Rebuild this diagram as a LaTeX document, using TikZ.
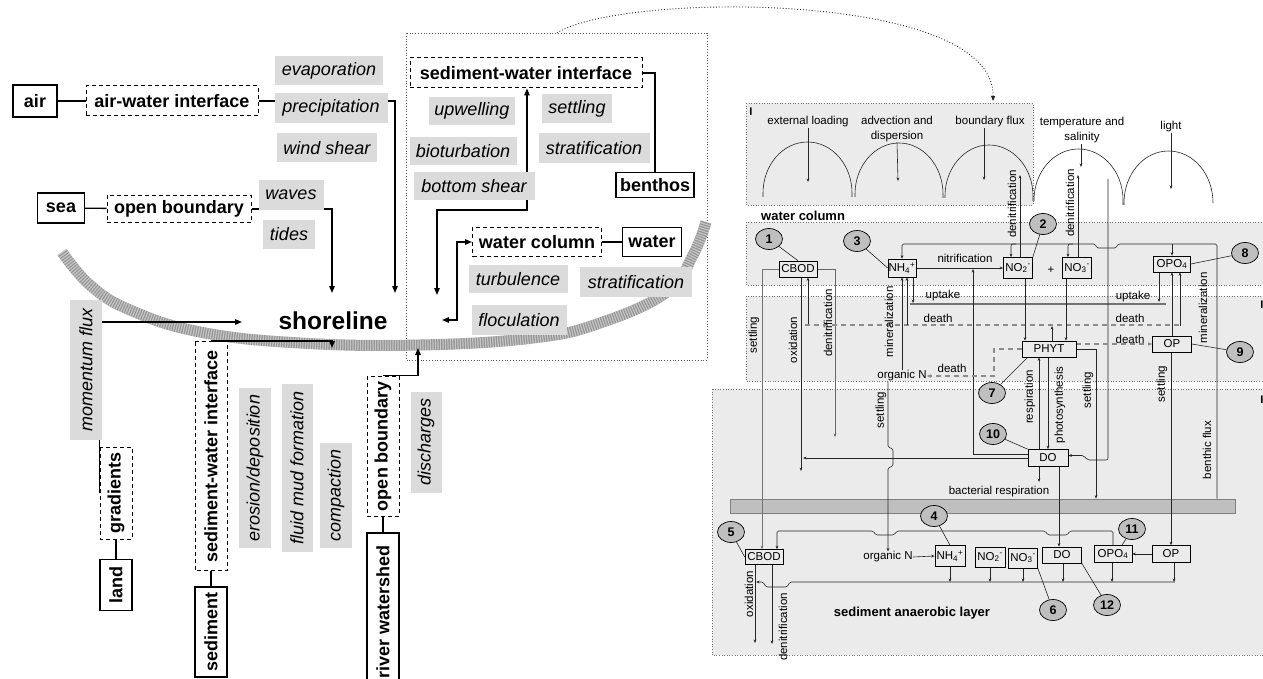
\documentclass[tikz,border=0pt]{standalone}
\usepackage{fontspec}
\setmainfont{Liberation Sans}
\usetikzlibrary{arrows.meta,shapes.geometric,calc}
\pgfdeclarelayer{panel}
\pgfdeclarelayer{bg}
\pgfsetlayers{panel,bg,main}
\begin{document}
\begin{tikzpicture}[x=1pt,y=-1pt,
  bbox/.style={draw, line width=1.1, inner sep=0, font=\fontsize{18}{21}\selectfont\bfseries, fill=white},
  dbox/.style={draw, line width=1, dash pattern=on 4pt off 3pt, inner sep=0, font=\fontsize{18}{21}\selectfont\bfseries, fill=white},
  gbox/.style={fill=black!14, inner sep=0, minimum height=29, font=\fontsize{18}{21}\selectfont\itshape},
  la/.style={line width=1.3, -{Triangle[length=7pt,width=5.5pt]}},
  lb/.style={line width=1.3, {Triangle[length=7pt,width=5.5pt]}-{Triangle[length=7pt,width=5.5pt]}},
  ln/.style={line width=1.3},
  rbox/.style={draw, line width=0.6, inner sep=0, fill=black!8, font=\fontsize{11.5}{13}\selectfont},
  rl/.style={inner sep=0, font=\fontsize{11.5}{13}\selectfont},
  rl2/.style={inner sep=0, align=center, font=\fontsize{11.5}{15}\selectfont},
  rlr/.style={rl, rotate=90},
  rb/.style={inner sep=0, font=\fontsize{13}{15}\selectfont\bfseries},
  num/.style={ellipse, draw, line width=0.7, fill=black!25, minimum width=27, minimum height=21, inner sep=0, font=\fontsize{12.5}{14}\selectfont\bfseries},
  ra/.style={line width=0.6, draw=black!85, -{Stealth[length=3.5pt,width=2.8pt]}},
  rn/.style={line width=0.6, draw=black!85},
  dth/.style={line width=1.1, draw=black!45, dash pattern=on 5pt off 4pt},
  panelst/.style={fill=black!8, draw=black!55, dotted, line width=0.6},
  mkst/.style={inner sep=0, font=\fontsize{11}{12}\selectfont\bfseries},
]
\useasboundingbox (0,0) rectangle (1263,679);

% ---------------- panels ----------------
\begin{pgfonlayer}{panel}
\draw[panelst] (746,103) rectangle (1033,205);
\draw[panelst] (746,222) rectangle (1263,285);
\draw[panelst] (746,296) rectangle (1263,381);
\draw[panelst] (712,389) rectangle (1263,655);
\node[draw=black!50, fill=black!25, line width=0.6, minimum width=505, minimum height=14, inner sep=0] (sbar) at (982.5,506) {};
\draw[black!65, dotted, line width=0.8] (406,33) rectangle (707,360);
\end{pgfonlayer}

% ---------------- left nodes ----------------
\node[bbox, minimum width=44, minimum height=32] (air) at (35,101) {air};
\node[dbox, minimum width=172, minimum height=30] (aw) at (172,101) {air-water interface};
\node[gbox, minimum width=108] (evap) at (329,71) {evaporation};
\node[gbox, minimum width=113, minimum height=30] (prec) at (331,108) {precipitation};
\node[gbox, minimum width=100] (wind) at (327,148) {wind shear};
\node[bbox, minimum width=47, minimum height=30] (sea) at (61,208) {sea};
\node[dbox, minimum width=144, minimum height=27] (ob) at (179,209) {open boundary};
\node[gbox, minimum width=65, minimum height=30] (waves) at (291,195) {waves};
\node[gbox, minimum width=52] (tides) at (289,234) {tides};
\node[inner sep=0, font=\fontsize{24.5}{28}\selectfont\bfseries] (shore) at (333,321) {shoreline};

\node[gbox, rotate=90, minimum width=140, minimum height=32] (mom) at (86,370) {momentum flux};
\node[dbox, rotate=90, minimum width=92, minimum height=32] (grad) at (116,493) {gradients};
\node[bbox, rotate=90, minimum width=51, minimum height=32] (land) at (116,585) {land};
\node[dbox, rotate=90, minimum width=229, minimum height=32] (swiv) at (211,456) {sediment-water interface};
\node[bbox, rotate=90, minimum width=90, minimum height=32] (sed) at (211,632) {sediment};
\node[gbox, rotate=90, minimum width=160, minimum height=32] (eros) at (255,468) {erosion/deposition};
\node[gbox, rotate=90, minimum width=168, minimum height=31] (fluid) at (297,468) {fluid mud formation};
\node[gbox, rotate=90, minimum width=105, minimum height=32] (comp) at (336,495) {compaction};
\node[dbox, rotate=90, minimum width=140, minimum height=32] (obv) at (383,446) {open boundary};
\node[bbox, rotate=90, minimum width=158, minimum height=32] (river) at (383,612) {river watershed};
\node[gbox, rotate=90, minimum width=101, minimum height=31] (disch) at (426,442) {discharges};

% ---------------- middle nodes ----------------
\node[dbox, minimum width=232, minimum height=30] (swi) at (526,73) {sediment-water interface};
\node[bbox, minimum width=78, minimum height=25] (benth) at (655,185) {benthos};
\node[gbox, minimum width=86, minimum height=28] (upw) at (472,111) {upwelling};
\node[gbox, minimum width=70] (sett) at (577,109) {settling};
\node[gbox, minimum width=107, minimum height=28] (biot) at (463,151) {bioturbation};
\node[gbox, minimum width=111, minimum height=30] (strat) at (594,148) {stratification};
\node[gbox, minimum width=121, minimum height=28] (bshear) at (474,186) {bottom shear};
\node[dbox, minimum width=129, minimum height=29] (wc) at (537,242) {water column};
\node[bbox, minimum width=59, minimum height=29] (water) at (652,242) {water};
\node[gbox, minimum width=99, minimum height=28] (turb) at (518,279) {turbulence};
\node[gbox, minimum width=112, minimum height=30] (strat2) at (636,282) {stratification};
\node[gbox, minimum width=95, minimum height=30] (floc) at (519,320) {floculation};

\coordinate (shA) at (395,293);
\coordinate (shB) at (332,293);
\coordinate (shL) at (242,322);
\coordinate (shC) at (332,348);
\coordinate (shD) at (418,348);
\coordinate (mA) at (437,295);
\coordinate (mB) at (527,210);
\coordinate (mC) at (442,320);
\coordinate (mD) at (457,320);
\coordinate (zsrc) at (557,33);
\coordinate (zdst) at (993,101);

% ---------------- right nodes ----------------
\node[rbox, minimum width=38, minimum height=16] (cbodU) at (798,269) {CBOD};
\node[rbox, minimum width=28, minimum height=18] (NH4U) at (902,268) {NH\textsubscript{4}\textsuperscript{+}};
\node[rbox, minimum width=29, minimum height=21] (NO2U) at (1018,268) {NO\textsubscript{2}\textsuperscript{-}};
\node[rbox, minimum width=29, minimum height=21] (NO3U) at (1077,268) {NO\textsubscript{3}\textsuperscript{-}};
\node[rbox, minimum width=37, minimum height=16] (OPO4U) at (1172,264) {OPO\textsubscript{4}};
\node[rbox, minimum width=39, minimum height=16] (OPU) at (1172,344) {OP};
\node[rbox, minimum width=54, minimum height=16] (PHYT) at (1049,349) {PHYT};
\node[rbox, minimum width=40, minimum height=17] (DOU) at (1048,458) {DO};
\node[rbox, minimum width=38, minimum height=15] (cbodL) at (764,557) {CBOD};
\node[rbox, minimum width=30, minimum height=21] (NH4L) at (950,556) {NH\textsubscript{4}\textsuperscript{+}};
\node[rbox, minimum width=30, minimum height=20] (NO2L) at (990,557) {NO\textsubscript{2}\textsuperscript{-}};
\node[rbox, minimum width=29, minimum height=20] (NO3L) at (1023,558) {NO\textsubscript{3}\textsuperscript{-}};
\node[rbox, minimum width=39, minimum height=16] (DOL) at (1062,555) {DO};
\node[rbox, minimum width=38, minimum height=17] (OPO4L) at (1113,554) {OPO\textsubscript{4}};
\node[rbox, minimum width=38, minimum height=17] (OPL) at (1171,554) {OP};

\node[num] (c1) at (769,239) {1};
\node[num] (c2) at (1043,224) {2};
\node[num] (c3) at (857,241) {3};
\node[num] (c4) at (934,516) {4};
\node[num] (c5) at (731,532) {5};
\node[num] (c6) at (1053,610) {6};
\node[num] (c7) at (992,393) {7};
\node[num] (c8) at (1245,253) {8};
\node[num] (c9) at (1240,352) {9};
\node[num] (c10) at (993,434) {10};
\node[num] (c11) at (1132,529) {11};
\node[num] (c12) at (1107,605) {12};

% labels
\node[rl] (lext) at (808,122) {external loading};
\node[rl2] (ladv) at (897,129) {advection and\\dispersion};
\node[rl] (lbnd) at (990,122) {boundary flux};
\node[rl2] (ltemp) at (1082,130.5) {temperature and\\salinity};
\node[rl] (llight) at (1171,127) {light};
\node[rb, anchor=west] (lwc) at (761,216) {water column};
\node[rl] (lnit) at (965,258) {nitrification};
\node[rl] (lplus) at (1051,270) {+};
\node[rlr] (ldn1) at (1012,204) {denitrification};
\node[rlr] (ldn2) at (1070,203) {denitrification};
\node[rlr] (lset1) at (754,335) {settling};
\node[rlr] (lox1) at (793,340) {oxidation};
\node[rlr] (ldn3) at (828,323) {denitrification};
\node[rlr] (lmin1) at (889,322) {mineralization};
\node[rl] (lup1) at (943,296) {uptake};
\node[rl] (lup2) at (1133,297) {uptake};
\node[rl] (ld1) at (938,318) {death};
\node[rl] (ld2) at (1130,318) {death};
\node[rl] (ld3) at (1130,339) {death};
\node[rl] (ld4) at (952,368) {death};
\node[rl] (orgNU) at (902,376) {organic N};
\node[rlr] (lmin2) at (1203,308) {mineralization};
\node[rlr] (lset2) at (881,410) {settling};
\node[rlr] (lresp) at (1030,397) {respiration};
\node[rlr] (lphot) at (1060,405) {photosynthesis};
\node[rlr] (lset3) at (1088,390) {settling};
\node[rlr] (lset4) at (1162,384) {settling};
\node[rlr] (lbf) at (1207,450) {benthic flux};
\node[rl] (lbr) at (999,492) {bacterial respiration};
\node[rl] (orgNL) at (888,557) {organic N};
\node[rb] (lsal) at (912,613) {sediment anaerobic layer};
\node[rlr] (lox2) at (749,594) {oxidation};
\node[rlr] (ldn4) at (783,627) {denitrification};
\node[mkst] (mk1) at (751,112) {I};
\node[mkst] (mk2) at (1262,305) {I};
\node[mkst] (mk3) at (1262,400) {I};

% ---------------- connectors ----------------
\begin{pgfonlayer}{bg}
% band
\draw[line width=11, black!42] plot[smooth, tension=0.7] coordinates {(62,252) (90,285) (130,310) (200,332) (300,343) (420,345) (533,338) (600,323) (667,292) (693,255) (706,222)};
\draw[line width=11, white, opacity=0.45, dash pattern=on 1.2pt off 1.3pt] plot[smooth, tension=0.7] coordinates {(62,252) (90,285) (130,310) (200,332) (300,343) (420,345) (533,338) (600,323) (667,292) (693,255) (706,222)};

% left
\draw[ln] (air) -- (aw);
\draw[la] (aw.east) -| (shA);
\draw[ln] (sea) -- (ob);
\draw[la] (ob.east) -| (shB);
\draw[la] (grad.north) |- (shL);
\draw[ln] (grad) -- (land);
\draw[ln] (swiv) -- (sed);
\draw[la] (swiv.east) -| (shC);
\draw[ln] (obv) -- (river);
\draw[la] (obv.east) -| (shD);
% middle
\draw[ln] (swi.east) -| (benth.north);
\draw[ln] (wc) -- (water);
\draw[lb] (mA) |- (mB) -- (mB |- swi.south);
\draw[lb] (mC) -- (mD) |- (wc.west);
\draw[black!85, line width=0.9, dotted, -{Triangle[length=5pt,width=4pt]}] (zsrc) .. controls (620,-8) and (995,-10) .. (zdst);

% top panel arches
\draw[rn] (763,197) -- (763,193) .. controls (763,165) and (782.9,142) .. (807.5,142) .. controls (832.1,142) and (852,165) .. (852,193) -- (852,197);
\draw[rn] (855,197) -- (855,194) .. controls (855,166) and (874.7,143) .. (899,143) .. controls (923.3,143) and (943,166) .. (943,194) -- (943,198);
\draw[rn] (945,198) -- (945,196) .. controls (945,168) and (964.7,145) .. (989,145) .. controls (1013.3,145) and (1033,168) .. (1033,196) -- (1033,201);
\draw[rn] (1034,201) -- (1034,200) .. controls (1034,172) and (1053.9,149) .. (1078.5,149) .. controls (1103.1,149) and (1123,172) .. (1123,200) -- (1123,205);
\draw[rn] (1124,205) -- (1124,203) .. controls (1124,174) and (1143.9,151) .. (1168.5,151) .. controls (1193.1,151) and (1213,174) .. (1213,203);
\draw[ra] (lext.south) -- (808,182);
\draw[ra] (ladv.south) -- (898,181);
\draw[ra] (lbnd.south -| 984,0) -- (984,180);
\draw[ra] (ltemp.south -| 1081,0) -- (1081,167);
\draw[ra] (llight.south) -- (1171,189);

% upper CBOD
\draw[ra, draw=black!55] (cbodU.west) -| (cbodL.north -| 762,0);
\draw[ra, draw=black!60] (cbodU.east) -| (835,437);
\draw[ra] (cbodU.south -| 801,0) -- (801,471);
\draw[ra] (808,325) -- (cbodU.south -| 808,0);
\draw[dth] (805,325) -- (1183,325);
% NH4
\draw[ra] (orgNU.north) -- (NH4U.south);
\draw[ra] (907,325) -- (NH4U.south -| 907,0);
\draw[ra] (NH4U.south -| 913,0) -- (913,303);
\draw[line width=1.2, black!55] (910,304) -- (1166,304);
\draw[ra] (NH4U.east) -- (NO2U.west);
\draw[ra] ($(DOU.north west)+(0,5)$) -| (973,269);
\draw[ra] (DOU.west) -- (803,458);
% benthic flux
\draw[ra, rounded corners=1.5] (sbar.north -| 1217,0) -- (1217,244) -- (1118,244) -- (1116,248) -- (1097,248) -- (1095,244) -- (NH4U.north |- 0,244) -- (NH4U.north);
\draw[ra, rounded corners=2] (1016,244) -| (NO2U.north -| 1011,0);
\draw[ra, rounded corners=2] (1073,244) -| (NO3U.north -| 1068,0);
\draw[ra] (OPO4U.north |- 0,244) -- (OPO4U.north);
\draw[ra] (NO2U.north -| 1020,0) -- (1020,175);
\draw[ra] (NO3U.north -| 1078,0) -- (1078,175);
\draw[ra, rounded corners=2] (1108,179) -- (1108,460) -- (1087,460) -- (1084,455.5) -- (DOU.east |- 0,455.5);
% PHYT
\draw[ra] (NO2U.south -| 1025,0) -- (PHYT.north -| 1025,0);
\draw[ra] (NO3U.south -| 1066,0) -- (PHYT.north -| 1066,0);
\draw[ra] (PHYT.north -| 1052,0) -- (1052,326);
\draw[dth, -{Stealth[length=4pt,width=3.5pt]}] (PHYT.west) -| (994,376) -- (orgNU.east);
\draw[dth, -{Stealth[length=4pt,width=3.5pt]}] (PHYT.east |- OPU.west) -- (OPU.west);
\draw[ra] (PHYT.east) -| (sbar.north -| 1096,0);
\draw[ra] (DOU.north -| 1039,0) -- (PHYT.south -| 1039,0);
\draw[ra] (PHYT.south -| 1048,0) -- (DOU.north -| 1048,0);
\draw[ra] (DOU.south -| 1039,0) -- (1039,482);
\draw[ra] (DOU.south -| 1059,0) -- (DOL.north -| 1059,0);
% OP
\draw[ra] (OPO4U.south -| 1159,0) -- (1159,302);
\draw[ra] (OPU.north) -- (OPO4U.south);
\draw[ra] (1180,326) -- (OPO4U.south -| 1180,0);
\draw[ra] (OPU.south -| 1171,0) -- (OPL.north -| 1171,0);
% organic N settling
\draw[ra, rounded corners=1.5] (orgNU.south -| 888,0) -- (888,447) -- (893,449) -- (893,466) -- (888,468) -- (orgNL.north -| 888,0);
% lower layer
\draw[ra, rounded corners=1.5] (OPO4L.north) -- (OPO4L.north |- 0,531) -- (1070,531) -- (1067,535) -- (1048,535) -- (1045,531) -- (897,531) -- (894,535) -- (876,535) -- (873,531) -- (777,531) -- (cbodL.north -| 777,0);
\draw[ra] (orgNL.east) -- (NH4L.west);
\draw[ra] (OPL.west) -- (OPO4L.east);
\draw[ra, rounded corners=1.5] (1175,582) -- (790,582) -- (787,587) -- (766,587) -- (763,582) -- (756,582);
\draw[ra] (NH4L.south) -- (NH4L.south |- 0,582);
\draw[ra] (NO2L.south) -- (NO2L.south |- 0,582);
\draw[ra] (NO3L.south) -- (NO3L.south |- 0,582);
\draw[ra] (DOL.south -| 1063,0) -- (1063,582);
\draw[ra] (OPO4L.south -| 1112,0) -- (1112,582);
\draw[ra] (OPL.south -| 1174,0) -- (1174,582);
\draw[ra] (cbodL.south -| 755,0) -- (755,643);
\draw[ra] (cbodL.south -| 772,0) -- (772,644);
% circle leaders
\draw[rn] (c1) -- (cbodU.north);
\draw[rn] (c2) -- (NO2U.north east);
\draw[rn] (c3) -- (NH4U.west);
\draw[rn] (c4) -- (NH4L.north);
\draw[rn] (c5) -- (cbodL.west);
\draw[rn] (c6) -- (NO3L.south east);
\draw[rn] (c7) -- ($(PHYT.south west)+(6,0)$);
\draw[rn] (c8) -- (OPO4U.east);
\draw[rn] (c9) -- (OPU.east);
\draw[rn] (c10) -- (DOU.north west);
\draw[rn] (c11) -- ($(OPO4L.north)+(9,0)$);
\draw[rn] (c12) -- (DOL.south east);
\end{pgfonlayer}
\end{tikzpicture}
\end{document}
